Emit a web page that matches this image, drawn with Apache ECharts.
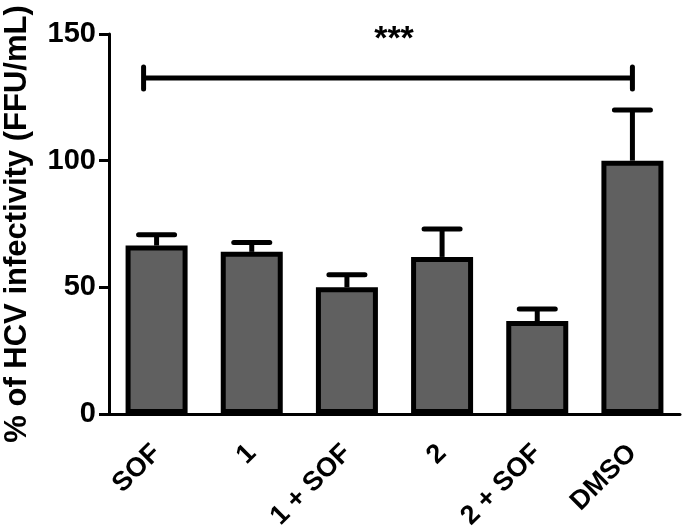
<!DOCTYPE html>
<html>
<head>
<meta charset="utf-8">
<script src="https://cdn.jsdelivr.net/npm/echarts@6/dist/echarts.min.js"></script>
<style>
html,body{margin:0;padding:0;background:#fff;}
#chart{width:685px;height:532px;}
</style>
</head>
<body>
<div id="chart"></div>
<script>
const categories = ['SOF', '1', '1 + SOF', '2', '2 + SOF', 'DMSO'];
const means = [66.5, 64, 50, 62, 36.7, 100];
const errors = [4.3, 3.7, 5, 11, 4.7, 20];
const yTicks = [0, 50, 100, 150];
const sigStart = 0, sigEnd = 5, sigLevel = 132.6, sigLabel = '***';

const FONT = '"Liberation Sans", Arial, sans-serif';
const chart = echarts.init(document.getElementById('chart'));

chart.setOption({
  animation: false,
  backgroundColor: '#fff',
  grid: { left: 109, right: 5, top: 34, bottom: 118, containLabel: false, outerBoundsMode: 'none' },
  xAxis: {
    type: 'category',
    data: categories,
    boundaryGap: true,
    axisLine: { lineStyle: { color: '#000', width: 3 } },
    axisTick: { alignWithLabel: true, length: 10, lineStyle: { color: '#000', width: 3 } },
    axisLabel: { rotate: 45, margin: 35, color: '#000', fontWeight: 'bold', fontSize: 27, fontFamily: FONT, interval: 0 }
  },
  yAxis: {
    type: 'value',
    min: yTicks[0], max: yTicks[yTicks.length - 1], interval: 50,
    name: '% of HCV infectivity (FFU/mL)',
    nameLocation: 'middle',
    nameGap: 76,
    nameTextStyle: { color: '#000', fontWeight: 'bold', fontSize: 31, fontFamily: FONT },
    axisLine: { show: true, lineStyle: { color: '#000', width: 3 } },
    axisTick: { show: true, length: 10, lineStyle: { color: '#000', width: 3 } },
    axisLabel: { margin: 13, color: '#000', fontWeight: 'bold', fontSize: 29, fontFamily: FONT },
    splitLine: { show: false }
  },
  series: [
    {
      type: 'bar',
      data: means,
      barWidth: 62,
      itemStyle: { color: '#606060', borderColor: '#000', borderWidth: 5 },
      z: 3
    },
    {
      type: 'custom',
      z: 2,
      data: means.map((m, i) => [i, m, m + errors[i]]),
      renderItem: function (params, api) {
        const x = api.value(0);
        const p0 = api.coord([x, api.value(1)]);
        const p1 = api.coord([x, api.value(2)]);
        const half = 18;
        return {
          type: 'group',
          children: [
            { type: 'line', shape: { x1: p0[0], y1: p0[1], x2: p1[0], y2: p1[1] }, style: { stroke: '#000', lineWidth: 5 } },
            { type: 'line', shape: { x1: p1[0] - half, y1: p1[1], x2: p1[0] + half, y2: p1[1] }, style: { stroke: '#000', lineWidth: 5, lineCap: 'round' } }
          ]
        };
      }
    },
    {
      type: 'custom',
      z: 4,
      data: [[sigStart, sigEnd, sigLevel]],
      renderItem: function (params, api) {
        const a = api.coord([api.value(0), api.value(2)]);
        const b = api.coord([api.value(1), api.value(2)]);
        const xa = a[0] - 13;
        const xb = b[0];
        const y = a[1];
        return {
          type: 'group',
          children: [
            { type: 'line', shape: { x1: xa, y1: y, x2: xb, y2: y }, style: { stroke: '#000', lineWidth: 5 } },
            { type: 'line', shape: { x1: xa, y1: y - 11, x2: xa, y2: y + 11 }, style: { stroke: '#000', lineWidth: 5, lineCap: 'round' } },
            { type: 'line', shape: { x1: xb, y1: y - 11, x2: xb, y2: y + 11 }, style: { stroke: '#000', lineWidth: 5, lineCap: 'round' } },
            { type: 'text', style: { x: 394, y: y - 38, text: sigLabel, fill: '#000', font: 'bold 34px ' + FONT, textAlign: 'center', textVerticalAlign: 'middle' } }
          ]
        };
      }
    }
  ]
});
</script>
</body>
</html>
